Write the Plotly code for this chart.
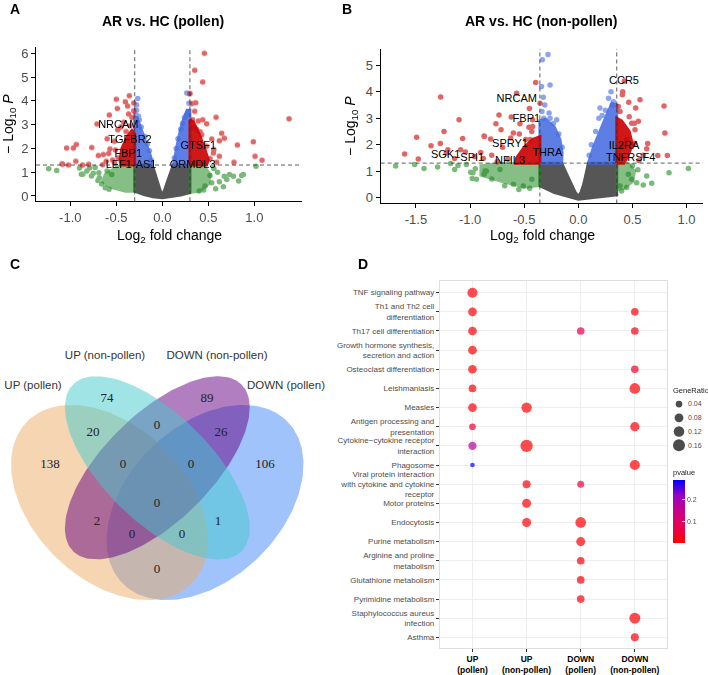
import numpy as np
import plotly.graph_objects as go

# ======================= DATA =======================
# ---- Panel A: AR vs. HC (pollen) -- volcano (log2FC, -log10 P) ----
A_sig_x = [-0.359, -0.50, -0.402, -0.31, -0.489, -0.377, -0.31, -0.576, -0.366, -0.71, -0.484, -0.394,
           -0.967, -0.935, -0.767, -0.695, -0.641, -0.569, -0.583, -0.51, -0.94, -1.083, -1.02, -0.867,
           -0.80, -0.648, -0.54, -0.61, -0.52, -0.45, -0.42, -0.33, -0.35, -0.60, -0.48, -0.52, -1.04, -1.09,
           0.457, 0.352, 0.439, 0.301, 0.323, 0.363, 0.352, 0.584, 1.377, 0.33, 0.392, 0.439, 0.482, 0.645,
           0.674, 0.62, 0.537, 0.816, 0.989, 1.008, 1.084, 0.779, 0.62, 0.555, 0.482, 0.428, 0.374, 0.446,
           0.591, 0.518, 0.337, 0.56, 0.41]
A_sig_y = [4.21, 4.06, 3.96, 3.91, 3.68, 3.78, 3.58, 3.40, 3.44, 3.02, 2.78, 2.71,
           2.02, 2.16, 2.04, 1.70, 1.74, 1.97, 1.78, 1.93, 1.46, 1.33, 1.30, 1.30,
           1.33, 1.31, 1.51, 1.46, 2.30, 2.90, 3.10, 3.30, 2.95, 2.40, 1.60, 1.40, 2.02, 1.35,
           6.00, 5.28, 4.79, 4.31, 3.89, 3.92, 3.56, 3.31, 3.24, 3.20, 3.15, 3.20, 3.03, 2.64,
           2.43, 2.32, 2.39, 2.14, 2.28, 1.67, 1.50, 1.42, 1.67, 1.81, 2.09, 2.57, 2.79, 1.39,
           1.42, 1.57, 2.89, 1.95, 2.70]
A_fc_x = [-1.235, -1.148, -0.90, -0.864, -0.88, -0.79, -0.73, -0.69, -0.685, -0.75, -0.66, -0.62, -0.58,
          -0.70, -0.77, -0.82, -0.60, -0.55,
          1.018, 0.862, 0.88, 0.83, 0.729, 0.772, 0.674, 0.70, 0.663, 0.518, 0.537, 0.464, 0.402, 0.60,
          0.56, 0.62, 0.58, 0.45]
A_fc_y = [1.14, 1.07, 1.18, 0.91, 0.91, 1.18, 1.20, 0.98, 0.77, 0.95, 0.50, 0.35, 0.28,
          0.65, 0.84, 1.05, 1.05, 0.90,
          1.25, 0.86, 0.90, 0.63, 0.90, 0.83, 0.83, 0.69, 0.39, 0.86, 0.56, 0.42, 0.21, 1.00,
          1.15, 0.60, 0.30, 0.25]
A_p_x = [-0.267, -0.28, -0.28, -0.29, -0.26, -0.25, -0.23, -0.19, -0.16, -0.14, -0.12,
         0.265, 0.29, 0.28, 0.26, 0.24, 0.22, 0.20, 0.17, 0.15, 0.13, 0.29]
A_p_y = [4.10, 3.82, 3.60, 3.45, 3.35, 3.20, 2.90, 2.50, 2.20, 1.90, 1.50,
         4.33, 4.30, 3.54, 3.40, 3.30, 3.05, 2.80, 2.40, 2.00, 1.60, 3.90]
# outlines of the densely packed point clouds (log2FC, -log10 P)
A_ns_core = [(-0.30, 1.30), (-0.11, 1.30), (-0.085, 1.0), (-0.055, 0.6), (-0.025, 0.25), (0.0, 0.03),
             (0.025, 0.25), (0.055, 0.6), (0.09, 1.0), (0.12, 1.30), (0.30, 1.30), (0.30, 0.14),
             (0.2, 0.04), (0.1, -0.03), (0.0, -0.07), (-0.1, -0.03), (-0.2, 0.06), (-0.30, 0.2)]
A_p_cores = [[(-0.30, 1.30), (-0.30, 3.3), (-0.275, 3.3), (-0.22, 2.7), (-0.16, 2.1), (-0.13, 1.7), (-0.11, 1.30)],
             [(0.12, 1.30), (0.30, 1.30), (0.30, 3.6), (0.27, 3.6), (0.22, 3.1), (0.18, 2.5), (0.15, 1.9)]]
A_sig_cores = [[(-0.30, 1.30), (-0.30, 2.6), (-0.33, 2.75), (-0.38, 2.5), (-0.44, 2.0), (-0.46, 1.5), (-0.45, 1.30)],
               [(0.30, 1.30), (0.30, 3.2), (0.34, 3.1), (0.40, 2.6), (0.46, 2.0), (0.50, 1.5), (0.48, 1.30)]]
A_fc_cores = [[(-0.30, 1.28), (-0.30, 0.2), (-0.40, 0.2), (-0.55, 0.35), (-0.65, 0.6), (-0.62, 0.9), (-0.50, 1.2), (-0.45, 1.28)],
              [(0.30, 1.28), (0.30, 0.15), (0.40, 0.2), (0.50, 0.5), (0.52, 0.9), (0.45, 1.28)]]
A_genes = ["NRCAM", "TGFBR2", "FBP1", "LEF1-AS1", "GTSF1", "ORMDL3"]
A_gene_x = [-0.478, -0.351, -0.37, -0.34, 0.391, 0.33]
A_gene_y = [2.96, 2.36, 1.74, 1.29, 2.11, 1.29]
A_fc_cut = 0.3

# ---- Panel B: AR vs. HC (non-pollen) ----
B_sig_x = [-1.272, -1.102, -1.241, -1.494, -1.275, -1.361, -1.069, -1.605, -1.479, -1.205, -1.087, -1.044,
           -0.871, -0.902, -0.878, -1.143, -1.22, -0.394, -0.354, -0.452, -0.424, -0.733, -0.761, -0.714,
           -0.868, -0.54, -0.456, -0.422, -0.43, -0.60, -0.545, -0.81, -0.625, -0.446, -0.486, -0.57, -0.62,
           -0.96, -0.80, -0.70, -0.65, -0.75,
           0.425, 0.41, 0.407, 0.466, 0.57, 0.53, 0.792, 0.37, 0.385, 0.80, 0.555, 0.524, 0.493, 0.518,
           0.641, 0.632, 0.734, 0.823, 0.401, 0.447, 0.60, 0.56, 0.52, 0.47]
B_sig_y = [3.80, 2.94, 2.50, 2.28, 2.04, 1.96, 2.23, 1.65, 1.46, 1.81, 1.81, 1.72,
           2.33, 1.70, 1.48, 1.48, 1.68, 4.35, 3.56, 3.37, 2.94, 3.12, 2.79, 2.56,
           2.31, 2.79, 2.66, 2.69, 2.50, 2.44, 2.40, 2.21, 2.25, 2.19, 2.19, 3.94, 3.04,
           1.55, 1.60, 1.90, 1.45, 1.35,
           4.41, 4.00, 3.89, 3.60, 3.70, 3.38, 3.46, 3.44, 3.25, 2.44, 2.88, 2.56, 2.81, 2.81,
           2.04, 1.84, 1.59, 1.59, 1.94, 2.19, 1.60, 1.40, 2.05, 3.05]
B_fc_x = [-1.688, -1.512, -1.426, -1.18, -1.143, -1.112, -1.035, -0.995, -0.974, -0.952, -0.942, -0.871,
          -0.85, -0.862, -0.60, -0.508, -0.43, -0.724, -0.80, -0.68, -0.55, -0.45, -1.30, -0.98,
          1.017, 0.838, 0.632, 0.678, 0.60, 0.539, 0.493, 0.462, 0.385, 0.447, 0.55, 0.50, 0.40]
B_fc_y = [1.19, 1.25, 1.10, 1.29, 1.06, 1.21, 1.25, 0.96, 0.94, 1.09, 0.69, 0.88,
          1.00, 1.00, 0.50, 0.44, 0.69, 1.06, 0.70, 0.45, 0.30, 0.35, 1.15, 0.72,
          1.10, 0.94, 0.81, 0.54, 0.47, 0.56, 0.69, 0.88, 0.44, 0.38, 1.05, 1.20, 0.25]
B_p_x = [-0.28, -0.333, -0.261, -0.324, -0.336, -0.261, -0.20, -0.32, -0.31, -0.34, -0.27, -0.23, -0.18, -0.15,
         0.302, 0.20, 0.324, 0.314, 0.25, 0.19, 0.28, 0.22, 0.16, 0.12, 0.10]
B_p_y = [5.41, 5.21, 4.25, 3.79, 3.25, 3.00, 2.94, 3.00, 3.50, 4.20, 3.20, 2.80, 2.40, 1.90,
         4.00, 3.38, 3.62, 3.50, 3.30, 3.00, 3.75, 3.10, 2.50, 2.00, 1.60]
B_ns_core = [(-0.355, 1.30), (-0.154, 1.30), (-0.11, 0.9), (-0.065, 0.5), (-0.03, 0.2), (0.0, 0.04),
             (0.025, 0.2), (0.05, 0.5), (0.075, 0.9), (0.093, 1.30), (0.355, 1.30), (0.355, 0.1),
             (0.2, 0.03), (0.0, -0.06), (-0.22, 0.19), (-0.355, 0.44)]
B_p_cores = [[(-0.355, 1.30), (-0.355, 2.9), (-0.30, 2.95), (-0.22, 2.65), (-0.17, 2.2), (-0.15, 1.7), (-0.154, 1.30)],
             [(0.093, 1.30), (0.355, 1.30), (0.355, 3.5), (0.31, 3.55), (0.26, 3.1), (0.20, 2.5), (0.14, 1.9)]]
B_sig_cores = [[(-0.355, 1.30), (-0.355, 2.3), (-0.42, 2.2), (-0.50, 1.9), (-0.57, 1.5), (-0.58, 1.30)],
               [(0.355, 1.30), (0.355, 3.0), (0.40, 2.9), (0.47, 2.5), (0.50, 2.0), (0.45, 1.5), (0.42, 1.30)]]
B_fc_cores = [[(-0.355, 1.28), (-0.355, 0.45), (-0.50, 0.40), (-0.70, 0.60), (-0.90, 0.85), (-0.90, 1.20), (-0.75, 1.28)],
              [(0.355, 1.28), (0.355, 0.30), (0.42, 0.35), (0.50, 0.60), (0.52, 1.0), (0.46, 1.28)]]
B_genes = ["CCR5", "NRCAM", "FBP1", "SPRY1", "NFIL3", "THRA", "SGK1", "SPI1", "IL2RA", "TNFRSF4"]
B_gene_x = [0.422, -0.569, -0.48, -0.631, -0.631, -0.286, -1.226, -0.98, 0.422, 0.484]
B_gene_y = [4.41, 3.72, 2.94, 2.00, 1.37, 1.69, 1.59, 1.50, 1.93, 1.50]
B_fc_cut = 0.355
P_CUT = 1.301

# ---- Panel C: Venn diagram ----
venn_sets = ["UP (pollen)", "UP (non-pollen)", "DOWN (non-pollen)", "DOWN (pollen)"]
venn_counts = [138, 74, 89, 106, 20, 0, 26, 0, 0, 0, 2, 1, 0, 0, 0]

# ---- Panel D: KEGG enrichment dot plot ----
pathways = ["TNF signaling pathway", "Th1 and Th2 cell<br>differentiation", "Th17 cell differentiation",
            "Growth hormone synthesis,<br>secretion and action", "Osteoclast differentiation",
            "Leishmaniasis", "Measles", "Antigen processing and<br>presentation",
            "Cytokine\u2212cytokine receptor<br>interaction", "Phagosome",
            "Viral protein interaction<br>with cytokine and cytokine<br>receptor", "Motor proteins",
            "Endocytosis", "Purine metabolism", "Arginine and proline<br>metabolism",
            "Glutathione metabolism", "Pyrimidine metabolism", "Staphylococcus aureus<br>infection", "Asthma"]
groups = ["UP<br>(pollen)", "UP<br>(non-pollen)", "DOWN<br>(pollen)", "DOWN<br>(non-pollen)"]
dot_path = [0, 1, 1, 2, 2, 2, 3, 4, 4, 5, 5, 6, 6, 7, 7, 8, 8, 9, 9, 10, 10, 11, 12, 12, 13, 14, 15, 16, 17, 18]
dot_group = [0, 0, 3, 0, 2, 3, 0, 0, 3, 0, 3, 0, 1, 0, 3, 0, 1, 0, 3, 1, 2, 1, 1, 2, 2, 2, 2, 2, 3, 3]
dot_ratio = [0.107, 0.077, 0.057, 0.077, 0.057, 0.057, 0.077, 0.077, 0.057, 0.057, 0.124, 0.077, 0.116,
             0.040, 0.090, 0.069, 0.170, 0.012, 0.107, 0.063, 0.045, 0.084, 0.084, 0.124, 0.084, 0.057,
             0.057, 0.057, 0.132, 0.063]
dot_p = [0.005, 0.006, 0.020, 0.006, 0.075, 0.025, 0.008, 0.008, 0.040, 0.010, 0.005, 0.012, 0.005,
         0.045, 0.010, 0.175, 0.004, 0.285, 0.008, 0.010, 0.060, 0.010, 0.012, 0.006, 0.010, 0.012,
         0.015, 0.018, 0.004, 0.008]
size_legend = ["0.04", "0.08", "0.12", "0.16"]
p_ticks = [0.1, 0.2]

# ======================= STYLE / LAYOUT =======================
W, H = 708, 675
FONT = "Liberation Sans, Arial, sans-serif"
NS, FC, PV, BOTH = "#4D4D4D", "#228B22", "#4169E1", "#CD0000"


def fx(px):
    return px / W


def fy(py):
    return 1 - py / H


fig = go.Figure()


def poly_trace(pts, color, xa, ya, op):
    xs = [p[0] for p in pts] + [pts[0][0]]
    ys = [p[1] for p in pts] + [pts[0][1]]
    return go.Scatter(x=xs, y=ys, mode="lines", fill="toself", fillcolor=color,
                      line=dict(color=color, width=3), opacity=op, xaxis=xa, yaxis=ya,
                      hoverinfo="skip", showlegend=False)


def pts_trace(x, y, color, xa, ya, op=0.6):
    return go.Scatter(x=x, y=y, mode="markers", marker=dict(size=5.5, color=color, line=dict(width=0)),
                      opacity=op, xaxis=xa, yaxis=ya, hoverinfo="skip", showlegend=False)


panels = [
    ("x", "y", A_ns_core, A_fc_cores, A_p_cores, A_sig_cores, (A_fc_x, A_fc_y), (A_p_x, A_p_y),
     (A_sig_x, A_sig_y), (A_genes, A_gene_x, A_gene_y), A_fc_cut),
    ("x2", "y2", B_ns_core, B_fc_cores, B_p_cores, B_sig_cores, (B_fc_x, B_fc_y), (B_p_x, B_p_y),
     (B_sig_x, B_sig_y), (B_genes, B_gene_x, B_gene_y), B_fc_cut),
]
shapes = []
for xa, ya, ns_core, fc_cores, p_cores, sig_cores, fcp, pp, sigp, genes, cut in panels:
    fig.add_trace(poly_trace(ns_core, NS, xa, ya, 0.95))
    for c in fc_cores:
        fig.add_trace(poly_trace(c, FC, xa, ya, 0.55))
    for c in p_cores:
        fig.add_trace(poly_trace(c, PV, xa, ya, 0.85))
    for c in sig_cores:
        fig.add_trace(poly_trace(c, BOTH, xa, ya, 0.9))
    fig.add_trace(pts_trace(*fcp, FC, xa, ya))
    fig.add_trace(pts_trace(*pp, PV, xa, ya))
    fig.add_trace(pts_trace(*sigp, BOTH, xa, ya))
    fig.add_trace(go.Scatter(x=genes[1], y=genes[2], text=genes[0], mode="text",
                             textfont=dict(size=11, color="black", family=FONT),
                             xaxis=xa, yaxis=ya, hoverinfo="skip", showlegend=False))
    xr = "x" if xa == "x" else "x2"
    yr = "y" if ya == "y" else "y2"
    dash = dict(color="#333333", width=0.8, dash="4px,3px")
    for v in (-cut, cut):
        shapes.append(dict(type="line", xref=xr, yref=yr + " domain", x0=v, x1=v, y0=0, y1=1, line=dash))
    shapes.append(dict(type="line", xref=xr + " domain", yref=yr, x0=0, x1=1, y0=P_CUT, y1=P_CUT, line=dash))

# ---- Venn (pixel coordinate axes) ----
venn_geom = [  # set index, cx, cy, a, b, angle, fill ; drawn bottom -> top
    (3, 205.0, 506, 116, 77, -45, "rgba(64,135,245,0.5)"),
    (0, 109.5, 506, 116, 77, 45, "rgba(235,171,101,0.5)"),
    (2, 157.3, 471, 119, 54, -45, "rgba(100,0,128,0.5)"),
    (1, 157.3, 471, 119, 54, 45, "rgba(65,201,205,0.5)"),
]
tt = np.linspace(0, 2 * np.pi, 181)
for idx, cx, cy, a, b, ang, col in venn_geom:
    ca, sa = np.cos(np.radians(ang)), np.sin(np.radians(ang))
    ex = cx + a * np.cos(tt) * ca - b * np.sin(tt) * sa
    ey = cy + a * np.cos(tt) * sa + b * np.sin(tt) * ca
    fig.add_trace(go.Scatter(x=ex, y=ey, mode="lines", fill="toself", fillcolor=col,
                             line=dict(width=0, color="rgba(0,0,0,0)"), xaxis="x3", yaxis="y3",
                             hoverinfo="skip", showlegend=False))
venn_count_pos = [(50, 468), (107, 401), (207, 401), (265, 468), (93, 436), (157, 429), (221, 436),
                  (123, 468), (191, 468), (157, 507), (97, 525), (218, 525), (132, 539), (182, 539), (157, 574)]
fig.add_trace(go.Scatter(x=[p[0] for p in venn_count_pos], y=[p[1] for p in venn_count_pos],
                         text=[str(c) for c in venn_counts], mode="text",
                         textfont=dict(size=13, color="#222222", family="Liberation Serif, serif"),
                         xaxis="x3", yaxis="y3", hoverinfo="skip", showlegend=False))
venn_label_pos = [(33, 389), (105, 358), (217, 358), (286, 389)]
fig.add_trace(go.Scatter(x=[p[0] for p in venn_label_pos], y=[p[1] for p in venn_label_pos],
                         text=venn_sets, mode="text",
                         textfont=dict(size=11.5, color="#333333", family=FONT),
                         xaxis="x3", yaxis="y3", hoverinfo="skip", showlegend=False))

# ---- Dot plot ----
def ratio_to_diam(r):
    return np.sqrt(11.9 + 826.0 * np.asarray(r, dtype=float))


cscale = [[0, "#FF0000"], [0.25, "#E80050"], [0.5, "#CA0089"], [0.75, "#9A00C3"], [1, "#0000FF"]]
fig.add_trace(go.Scatter(
    x=[groups[g] for g in dot_group], y=[pathways[p] for p in dot_path], mode="markers",
    marker=dict(size=ratio_to_diam(dot_ratio), sizemode="diameter", color=dot_p, colorscale=cscale,
                cmin=0.0014, cmax=0.288, line=dict(width=0),
                colorbar=dict(x=fx(672.5), xanchor="left", y=fy(515.5), yanchor="middle",
                              len=63, lenmode="pixels", thickness=12, outlinewidth=0,
                              tickvals=p_ticks, ticktext=[str(v) for v in p_ticks],
                              ticks="inside", ticklen=3, tickcolor="white",
                              tickfont=dict(size=7, color="#4D4D4D", family=FONT), xpad=0, ypad=0)),
    xaxis="x4", yaxis="y4", hoverinfo="skip", showlegend=False))

fig.add_trace(go.Scatter(
    x=[0] * len(size_legend), y=size_legend, mode="markers",
    marker=dict(size=ratio_to_diam([float(s) for s in size_legend]), color="black", line=dict(width=0)),
    xaxis="x5", yaxis="y5", hoverinfo="skip", showlegend=False))

vol_axis = dict(showline=True, linecolor="black", linewidth=1, ticks="outside", ticklen=4,
                tickcolor="black", tickwidth=1, showgrid=False, zeroline=False,
                tickfont=dict(size=13, color="#4D4D4D", family=FONT))

fig.update_layout(
    width=W, height=H, margin=dict(l=0, r=0, t=0, b=0), paper_bgcolor="white", plot_bgcolor="white",
    showlegend=False, font=dict(family=FONT),
    xaxis=dict(vol_axis, domain=[fx(36), fx(302)], range=[-1.373, 1.518], anchor="y",
               tickvals=[-1, -0.5, 0, 0.5, 1], ticktext=["-1.0", "-0.5", "0.0", "0.5", "1.0"]),
    yaxis=dict(vol_axis, domain=[fy(202), fy(46.7)], range=[-0.22, 6.25], anchor="x",
               tickvals=[0, 1, 2, 3, 4, 5, 6]),
    xaxis2=dict(vol_axis, domain=[fx(380.7), fx(703)], range=[-1.826, 1.152], anchor="y2",
                tickvals=[-1.5, -1, -0.5, 0, 0.5, 1],
                ticktext=["-1.5", "-1.0", "-0.5", "0.0", "0.5", "1.0"]),
    yaxis2=dict(vol_axis, domain=[fy(204.3), fy(48.3)], range=[-0.225, 5.62], anchor="x2",
                tickvals=[0, 1, 2, 3, 4, 5]),
    xaxis3=dict(domain=[0, 0.5], range=[0, 354], visible=False, anchor="y3"),
    yaxis3=dict(domain=[0, 0.6], range=[675, 270], visible=False, anchor="x3"),
    xaxis4=dict(domain=[fx(440), fx(667.3)], range=[-0.6, 3.6], anchor="y4", type="category",
                categoryorder="array", categoryarray=groups, showgrid=True, gridcolor="#EEEEEE",
                gridwidth=0.6, showline=True, mirror=True, linecolor="#DEDEDE", linewidth=1.2,
                ticks="outside", ticklen=3, tickcolor="#333333", tickwidth=0.7, zeroline=False,
                tickfont=dict(size=8.5, color="black", family="Liberation Sans"),
                tickprefix="<b>", ticksuffix="</b>"),
    yaxis4=dict(domain=[fy(652.7), fy(282.7)], range=[18.55, -0.6], anchor="x4", type="category",
                categoryorder="array", categoryarray=pathways, showgrid=True, gridcolor="#EEEEEE",
                gridwidth=0.6, showline=True, mirror=True, linecolor="#DEDEDE", linewidth=1.2,
                ticks="outside", ticklen=3, tickcolor="#333333", tickwidth=0.7, zeroline=False,
                tickfont=dict(size=8, color="#4D4D4D", family=FONT)),
    xaxis5=dict(domain=[fx(673), fx(685)], range=[-1, 1], visible=False, anchor="y5"),
    yaxis5=dict(domain=[fy(455.3), fy(399.7)], range=[3.5, -0.5], anchor="x5", type="category",
                categoryorder="array", categoryarray=size_legend, side="right", showline=False,
                showgrid=False, zeroline=False, ticks="", ticklabelstandoff=2,
                tickfont=dict(size=7, color="#4D4D4D", family=FONT)),
    shapes=shapes,
)

ann = []


def add_ann(text, px, py, size, bold=False, color="black", xanchor="center", angle=0, family=FONT):
    t = f"<b>{text}</b>" if bold else text
    ann.append(dict(text=t, x=fx(px), y=fy(py), xref="paper", yref="paper", showarrow=False,
                    xanchor=xanchor, yanchor="middle", textangle=angle,
                    font=dict(size=size, color=color, family=family)))


add_ann("A", 8, 8, 14, bold=True, xanchor="left")
add_ann("B", 340, 8, 14, bold=True, xanchor="left")
add_ann("C", 8, 265, 14, bold=True, xanchor="left")
add_ann("D", 356, 265, 14, bold=True, xanchor="left")
add_ann("AR vs. HC (pollen)", 163, 20, 14, bold=True)
add_ann("AR vs. HC (non-pollen)", 541, 20, 14, bold=True)
add_ann("Log<sub>2</sub> fold change", 169, 237, 14)
add_ann("Log<sub>2</sub> fold change", 542, 237, 14)
add_ann("\u2212 Log<sub>10</sub> <i>P</i>", 9, 124, 14, angle=-90)
add_ann("\u2212 Log<sub>10</sub> <i>P</i>", 351, 126, 14, angle=-90)
add_ann("GeneRatio", 671, 393, 7.5, color="#222222", xanchor="left")
add_ann("pvalue", 671, 476, 7.5, color="#222222", xanchor="left")
fig.update_layout(annotations=ann)

fig.write_html("out.html")
